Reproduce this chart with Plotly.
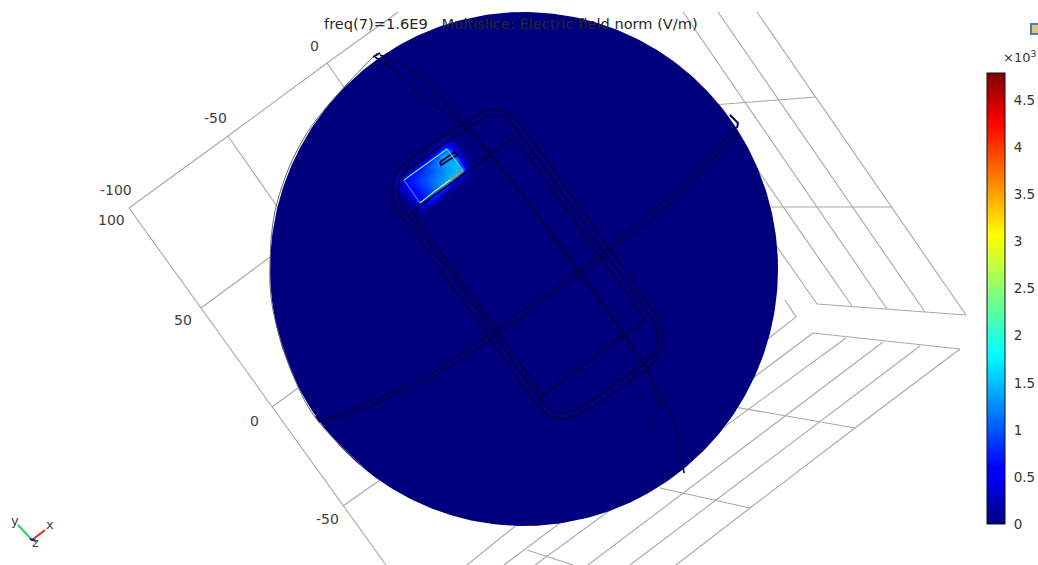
import numpy as np
import plotly.graph_objects as go

W, H = 1038, 565

# field sample grid around the hot spot (V/m)
field_x = [396, 401, 406, 411, 416, 421, 426, 431, 436, 441, 446, 451, 456, 461, 466, 471, 476]
field_y = [140, 145, 150, 155, 160, 165, 170, 175, 180, 185, 190, 195, 200, 205, 210, 215]
field_z = [
    [0, 0, 0, 0, 0, 0, 0, 0, 50, 100, 200, 150, 50, 0, 0, 0, 0],
    [0, 0, 0, 0, 0, 0, 0, 50, 150, 300, 550, 400, 150, 50, 0, 0, 0],
    [0, 0, 0, 0, 0, 0, 50, 150, 350, 800, 1200, 800, 350, 100, 0, 0, 0],
    [0, 0, 0, 0, 0, 50, 150, 350, 800, 1350, 1400, 1300, 700, 250, 50, 0, 0],
    [0, 0, 0, 0, 50, 150, 400, 800, 1200, 1300, 1400, 1450, 1300, 500, 100, 0, 0],
    [0, 0, 0, 50, 150, 500, 900, 1050, 1150, 1250, 1350, 1450, 1500, 900, 250, 50, 0],
    [0, 50, 100, 200, 600, 800, 900, 1000, 1100, 1200, 1300, 1400, 1500, 1500, 350, 50, 0],
    [100, 200, 350, 650, 750, 850, 950, 1050, 1150, 1250, 1350, 1450, 1500, 400, 100, 0, 0],
    [200, 400, 600, 700, 800, 900, 1000, 1100, 1200, 1300, 1400, 1500, 300, 100, 0, 0, 0],
    [200, 350, 500, 650, 750, 850, 950, 1050, 1150, 1250, 1300, 250, 50, 0, 0, 0, 0],
    [100, 200, 300, 500, 650, 750, 850, 950, 1050, 1000, 200, 50, 0, 0, 0, 0, 0],
    [50, 100, 200, 300, 550, 650, 750, 850, 900, 150, 50, 0, 0, 0, 0, 0, 0],
    [0, 50, 100, 200, 300, 600, 650, 700, 150, 50, 0, 0, 0, 0, 0, 0, 0],
    [0, 0, 50, 100, 150, 500, 200, 100, 0, 0, 0, 0, 0, 0, 0, 0, 0],
    [0, 0, 0, 50, 50, 100, 50, 0, 0, 0, 0, 0, 0, 0, 0, 0, 0],
    [0, 0, 0, 0, 0, 0, 0, 0, 0, 0, 0, 0, 0, 0, 0, 0, 0],
]
field_max = 4790
bar_ticks = [0, 500, 1000, 1500, 2000, 2500, 3000, 3500, 4000, 4500]
bar_labels = ["0", "0.5", "1", "1.5", "2", "2.5", "3", "3.5", "4", "4.5"]

# grid polylines
grid_lines = [
    # left plane
    [(129, 208), (228, 136), (327, 63), (398, 12)],
    [(129, 208), (201, 308), (272, 407), (343, 506), (386, 565)],
    [(327, 63), (360, 110)], [(228, 136), (290, 225)],
    [(201, 308), (300, 235)], [(272, 407), (320, 372)], [(343, 506), (400, 466)],
    # upper right plane
    [(757, 12), (966, 315)], [(718, 12), (925, 312)], [(683, 12), (887, 309)],
    [(852, 306), (767, 183), (730, 130)], [(817, 304), (778, 248), (750, 208)],
    [(817, 304), (966, 315)], [(700, 106), (816, 97)], [(750, 207), (892, 207)],
    # small corner between the planes
    [(785, 300), (796, 317), (760, 345)],
    # lower right plane
    [(813, 333), (960, 349)], [(960, 349), (855, 428), (750, 508), (676, 565)],
    [(813, 333), (757, 375), (504, 565)], [(846, 338), (720, 430), (535, 565)],
    [(883, 342), (700, 480), (588, 565)], [(920, 346), (700, 512), (630, 565)],
    [(855, 428), (737, 408), (700, 401)], [(750, 508), (700, 497), (660, 488)],
    [(527, 550), (573, 565)], [(560, 490), (467, 565)],
]

disc_cx, disc_cy, disc_rx, disc_ry = 524, 269, 254, 257
disc_rim_x = [377, 307, 277, 270, 273, 293, 315, 363]
disc_rim_y = [53, 133, 203, 263, 310, 375, 417, 467]

# rounded body outlines (smoothed)
body_lines = [
    [(393, 190), (395, 176), (404, 164), (476, 115), (490, 110), (506, 112), (520, 124), (521, 125), (590, 222),
     (656, 316), (663, 333), (661, 350), (650, 366), (582, 413), (565, 419), (548, 415), (536, 404), (468, 308),
     (400, 214), (393, 200), (393, 190)],
    [(399, 190), (401, 178), (408, 170), (479, 121), (491, 116), (504, 118), (516, 129), (585, 226),
     (652, 320), (658, 334), (656, 348), (646, 361), (579, 408), (565, 413), (551, 410), (541, 400), (473, 304),
     (405, 210), (399, 199), (399, 190)],
]
# straight screen and slot outlines
model_lines = [
    [(412, 212), (514, 137), (645, 320), (543, 395), (412, 212)],
    [(440, 162), (455, 152), (457, 155), (441, 165), (440, 162)],
    [(730, 115), (738, 123), (737, 128)], [(316, 416), (320, 422)], [(373, 57), (380, 53)],
]
# faint long arcs
arc_lines = [
    [(375, 57), (400, 75), (423, 97), (460, 123), (513, 183), (567, 257), (620, 330), (647, 370), (657, 400), (650, 435)],
    [(380, 55), (410, 68), (440, 97), (477, 137), (527, 200), (580, 270), (633, 347), (667, 407), (677, 430), (684, 473)],
    [(320, 422), (390, 393), (437, 370), (487, 335), (580, 270), (680, 187), (735, 128)],
    [(322, 424), (392, 397), (440, 373), (490, 340), (593, 265), (680, 195), (738, 132)],
]

# bright edges of the patch: segment start/end and colour
patch_edges = [
    ((447, 149), (463, 171), "#50e0d8"),
    ((447, 149), (404, 180), "#60f0c0"),
    ((404, 180), (420, 203), "#2090ff"),
    ((463, 171), (450, 180), "#ff9000"),
    ((450, 180), (435, 191), "#e8f040"),
    ((435, 191), (420, 203), "#70ff90"),
]

title_text = "freq(7)=1.6E9   Multislice: Electric field norm (V/m)"
tick_text = ["0", "-50", "-100", "100", "50", "0", "-50"]
tick_x = [314, 215, 116, 111, 183, 254, 327]
tick_y = [46, 118, 190, 220, 320, 421, 519]

triad = [
    ("y", (32, 540), (18, 525), "#35d060", (15, 520)),
    ("x", (32, 540), (45, 530), "#e03030", (50, 524)),
    ("z", (30, 539), (36, 541), "#1010c0", (35, 542)),
]

jet = [[0, "#00007f"], [0.11, "#0000ff"], [0.125, "#0000ff"], [0.375, "#00ffff"],
       [0.64, "#ffff00"], [0.89, "#ff0000"], [1, "#7f0000"]]


def flat(lines):
    xs, ys = [], []
    for ln in lines:
        xs += [p[0] for p in ln] + [None]
        ys += [p[1] for p in ln] + [None]
    return xs, ys


fig = go.Figure()
gx, gy = flat(grid_lines)
fig.add_trace(go.Scatter(x=gx, y=gy, mode="lines", line=dict(color="#a8a8a8", width=1.1), hoverinfo="skip"))

t = np.linspace(0, 2 * np.pi, 361)
fig.add_trace(go.Scatter(x=disc_cx + disc_rx * np.cos(t), y=disc_cy + disc_ry * np.sin(t), mode="lines",
                         line=dict(color="#00007f", width=0), fill="toself", fillcolor="#00007f", hoverinfo="skip"))
fig.add_trace(go.Scatter(x=disc_rim_x, y=disc_rim_y, mode="lines", line=dict(color="#667", width=1, shape="spline"),
                         hoverinfo="skip"))

fig.add_trace(go.Heatmap(x=field_x, y=field_y, z=field_z, zmin=0, zmax=field_max, colorscale=jet, zsmooth="best",
                         xaxis="x2", yaxis="y2", hoverinfo="skip",
                         colorbar=dict(x=987 / W, xanchor="left", xpad=0, y=1 - 73 / H, yanchor="top", ypad=0,
                                       thicknessmode="pixels", thickness=18, lenmode="pixels", len=451,
                                       outlinecolor="#111", outlinewidth=1, tickmode="array", tickvals=bar_ticks,
                                       ticktext=bar_labels, ticks="outside", ticklen=6, tickcolor="rgba(0,0,0,0)",
                                       tickfont=dict(family="DejaVu Sans", size=13.5, color="#333"))))

ax, ay = flat(arc_lines)
fig.add_trace(go.Scatter(x=ax, y=ay, mode="lines", xaxis="x2", yaxis="y2",
                         line=dict(color="#00004e", width=1.6, shape="spline", smoothing=0.6), hoverinfo="skip"))
bx, by = flat(body_lines)
fig.add_trace(go.Scatter(x=bx, y=by, mode="lines", xaxis="x2", yaxis="y2",
                         line=dict(color="#00004a", width=2, shape="spline", smoothing=0.7), hoverinfo="skip"))
mx, my = flat(model_lines)
fig.add_trace(go.Scatter(x=mx, y=my, mode="lines", xaxis="x2", yaxis="y2",
                         line=dict(color="#00004a", width=2), hoverinfo="skip"))
for a, b, c in patch_edges:
    fig.add_trace(go.Scatter(x=[a[0], b[0]], y=[a[1], b[1]], mode="lines", xaxis="x2", yaxis="y2",
                             line=dict(color=c, width=1.2), hoverinfo="skip"))
for name, a, b, c, lab in triad:
    fig.add_trace(go.Scatter(x=[a[0], b[0]], y=[a[1], b[1]], mode="lines", xaxis="x2", yaxis="y2",
                             line=dict(color=c, width=2.2), hoverinfo="skip"))
fig.add_trace(go.Scatter(x=[1036], y=[29], mode="markers", xaxis="x2", yaxis="y2",
                         marker=dict(symbol="square", size=10, color="#d8c878", line=dict(color="#5878a8", width=2)),
                         hoverinfo="skip"))

annotations = [dict(x=511, y=23, text=title_text, font=dict(family="DejaVu Sans", size=14.6, color="#282828"))]
for s, x, y in zip(tick_text, tick_x, tick_y):
    annotations.append(dict(x=x, y=y, text=s, font=dict(family="DejaVu Sans", size=14, color="#404040")))
for name, a, b, c, lab in triad:
    annotations.append(dict(x=lab[0], y=lab[1], text=name, font=dict(family="DejaVu Sans", size=13, color="#404040")))
annotations.append(dict(x=1001, y=57, xanchor="left", text="×10<sup>3</sup>",
                        font=dict(family="DejaVu Sans", size=13, color="#333")))
for a in annotations:
    a.update(xref="x2", yref="y2", showarrow=False)

hidden = dict(visible=False, showgrid=False, zeroline=False, fixedrange=True)
fig.update_layout(
    width=W, height=H, margin=dict(l=0, r=0, t=0, b=0), paper_bgcolor="white", plot_bgcolor="white",
    showlegend=False, annotations=annotations,
    xaxis=dict(range=[0, W], domain=[0, 1], **hidden),
    yaxis=dict(range=[H, 0], domain=[0, 1], **hidden),
    xaxis2=dict(range=[0, W], overlaying="x", **hidden),
    yaxis2=dict(range=[H, 0], overlaying="y", **hidden),
)
fig.write_html("out.html", config=dict(displayModeBar=False),
               post_script="document.body.style.margin='0';document.body.style.overflow='hidden';")
